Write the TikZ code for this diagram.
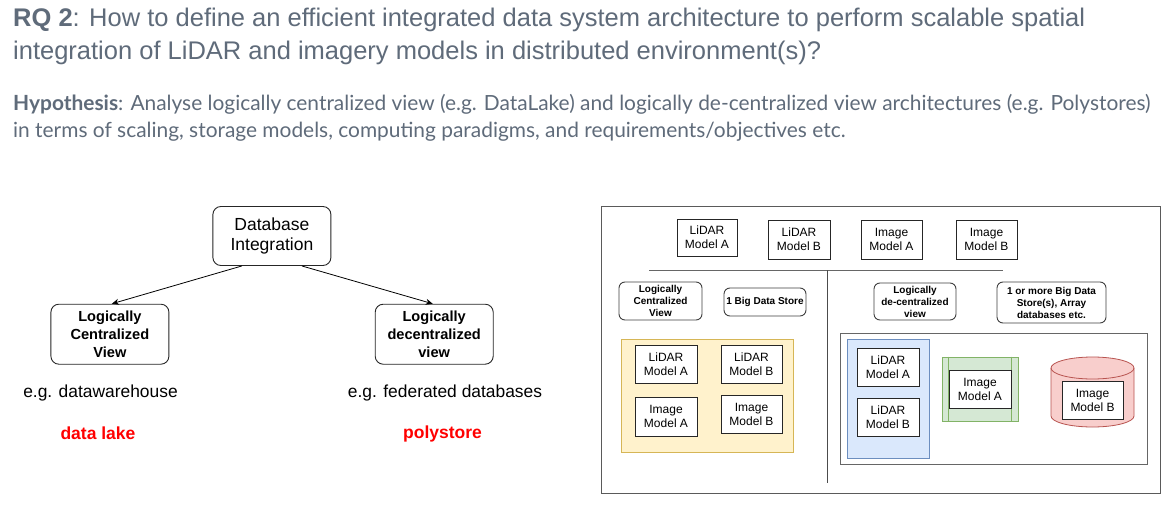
\documentclass[tikz,border=0pt]{standalone}
\usepackage{fontspec}
\setmainfont{Liberation Sans}
\newfontfamily\hypfont{Lato}
\usetikzlibrary{arrows.meta}
\definecolor{titlegray}{RGB}{95,107,122}
\definecolor{ylfill}{HTML}{FFF2CC}\definecolor{yldraw}{HTML}{D6B656}
\definecolor{blfill}{HTML}{DAE8FC}\definecolor{bldraw}{HTML}{6C8EBF}
\definecolor{grfill}{HTML}{D5E8D4}\definecolor{grdraw}{HTML}{82B366}
\definecolor{rdfill}{HTML}{F8CECC}\definecolor{rddraw}{HTML}{B85450}
\definecolor{framegray}{RGB}{90,90,90}
\begin{document}
\begin{tikzpicture}[x=1pt,y=-1pt,
  rbox/.style={draw=black!85, fill=white, rounded corners=8pt, align=center, inner sep=0pt, line width=0.9pt},
  bigtxt/.style={font=\fontsize{17.5}{20}\selectfont},
  bigbold/.style={font=\bfseries\fontsize{14.6}{17.7}\selectfont},
  mbox/.style={draw=black!85, fill=white, align=center, inner sep=0pt, line width=0.9pt, font=\fontsize{12}{14}\selectfont},
  sbox/.style={draw=black!75, fill=white, rounded corners=6pt, align=center, inner sep=0pt, line width=0.9pt, font=\bfseries\fontsize{10}{12}\selectfont},
  lbl/.style={anchor=base, inner sep=0pt},
  tline/.style={anchor=base west, inner sep=0pt, text=titlegray},
  conn/.style={draw=black, line width=0.8pt, -{Stealth[length=7pt,width=6pt]}},
]
\useasboundingbox[fill=white] (0,0) rectangle (1176,511);

% ---- header text ----
\node[tline, font=\fontsize{25.5}{33}\selectfont] (t1) at (13,27) {\textbf{RQ 2}: How to define an efficient integrated data system architecture to perform scalable spatial};
\node[tline, font=\fontsize{25.5}{33}\selectfont] (t2) at (13,60) {integration of LiDAR and imagery models in distributed environment(s)?};
\node[tline, font=\hypfont\fontsize{20.9}{26}\selectfont] (h1) at (13,110.5) {\textbf{Hypothesis}: Analyse logically centralized view (e.g. DataLake) and logically de-centralized view architectures (e.g. Polystores)};
\node[tline, font=\hypfont\fontsize{20.9}{26}\selectfont] (h2) at (13,137) {in terms of scaling, storage models, computing paradigms, and requirements/objectives etc.};

% ---- left diagram ----
\node[rbox, bigtxt, minimum width=118, minimum height=59] (db) at (271.9,236) {Database\\Integration};
\node[rbox, bigbold, minimum width=118, minimum height=60] (lcv) at (109.9,334.2) {Logically\\Centralized\\View};
\node[rbox, bigbold, minimum width=118, minimum height=60] (ldv) at (434.2,334.2) {Logically\\decentralized\\view};
\draw[conn] ([xshift=-30]db.south) -- ([xshift=2]lcv.north);
\draw[conn] ([xshift=30]db.south) -- ([xshift=-1.5]ldv.north);
\node[lbl, font=\fontsize{17.4}{20}\selectfont] (egdw) at (100.5,397.7) {e.g. datawarehouse};
\node[lbl, font=\fontsize{17.4}{20}\selectfont] (egfd) at (445,397.7) {e.g. federated databases};
\node[lbl, text=red, font=\bfseries\fontsize{17.5}{20}\selectfont] (dl) at (98,439) {data lake};
\node[lbl, text=red, font=\bfseries\fontsize{17.5}{20}\selectfont] (ps) at (442.5,438.5) {polystore};

% ---- right diagram ----
\node[draw=framegray, line width=1pt, fill=white, minimum width=559, minimum height=287, inner sep=0pt] (frame) at (880.5,349.5) {};
\node[mbox, minimum width=60, minimum height=37] (tla) at (707,237.5) {LiDAR\\Model A};
\node[mbox, minimum width=62, minimum height=39] (tlb) at (799,239.5) {LiDAR\\Model B};
\node[mbox, minimum width=61, minimum height=39] (tia) at (891.5,239.5) {Image\\Model A};
\node[mbox, minimum width=61, minimum height=39] (tib) at (986.5,239.5) {Image\\Model B};
\coordinate (hl) at (649,270);
\coordinate (hr) at (1003,270);
\coordinate (vt) at (827,270);
\coordinate (vb) at (827,483);
\draw[black!60, line width=1pt] (hl) -- (hr);
\draw[black!70, line width=1pt] (vt) -- (vb);

\node[sbox, minimum width=83, minimum height=38] (rlcv) at (660.5,301) {Logically\\Centralized\\View};
\node[sbox, minimum width=82, minimum height=28] (rbds) at (765,302) {1 Big Data Store};
\node[sbox, minimum width=82, minimum height=37] (rldv) at (915,301.5) {Logically\\de-centralized\\view};
\node[sbox, minimum width=109, minimum height=41] (rbds2) at (1051.5,302.5) {1 or more Big Data\\Store(s), Array\\databases etc.};

% yellow group
\node[draw=yldraw, fill=ylfill, line width=0.8pt, minimum width=172, minimum height=113, inner sep=0pt] (ygrp) at (707,395.5) {};
\node[mbox, minimum width=62, minimum height=38] (yla) at (666,364) {LiDAR\\Model A};
\node[mbox, minimum width=61, minimum height=38] (ylb) at (751.5,364) {LiDAR\\Model B};
\node[mbox, minimum width=62, minimum height=39] (yia) at (666,416.5) {Image\\Model A};
\node[mbox, minimum width=61, minimum height=38] (yib) at (751.5,414) {Image\\Model B};

% decentralized group
\node[draw=black!60, fill=white, line width=1pt, minimum width=307, minimum height=131, inner sep=0pt] (dgrp) at (993.5,398.5) {};
\node[draw=bldraw, fill=blfill, line width=0.8pt, minimum width=82, minimum height=119, inner sep=0pt] (bgrp) at (888,398.5) {};
\node[mbox, minimum width=62, minimum height=38] (bla) at (888,367) {LiDAR\\Model A};
\node[mbox, minimum width=62, minimum height=38] (blb) at (888,417) {LiDAR\\Model B};

\node[draw=grdraw, fill=grfill, line width=0.8pt, minimum width=76, minimum height=64, inner sep=0pt] (ggrp) at (980,389) {};
\draw[grdraw, line width=0.8pt] ([xshift=7]ggrp.north west) -- ([xshift=7]ggrp.south west);
\draw[grdraw, line width=0.8pt] ([xshift=-7]ggrp.north east) -- ([xshift=-7]ggrp.south east);
\node[mbox, minimum width=62, minimum height=38] (gia) at (980,389) {Image\\Model A};

% cylinder
\draw[rddraw, fill=rdfill, line width=0.8pt] (1051,368) -- (1051,416)
  arc[start angle=180, end angle=360, x radius=41.5pt, y radius=11pt] -- (1134,368)
  arc[start angle=0, end angle=180, x radius=41.5pt, y radius=11pt] -- cycle;
\draw[rddraw, line width=0.8pt] (1051,368) arc[start angle=180, end angle=360, x radius=41.5pt, y radius=11pt];
\node[mbox, minimum width=61, minimum height=38] (cib) at (1092.5,400) {Image\\Model B};
\end{tikzpicture}
\end{document}
